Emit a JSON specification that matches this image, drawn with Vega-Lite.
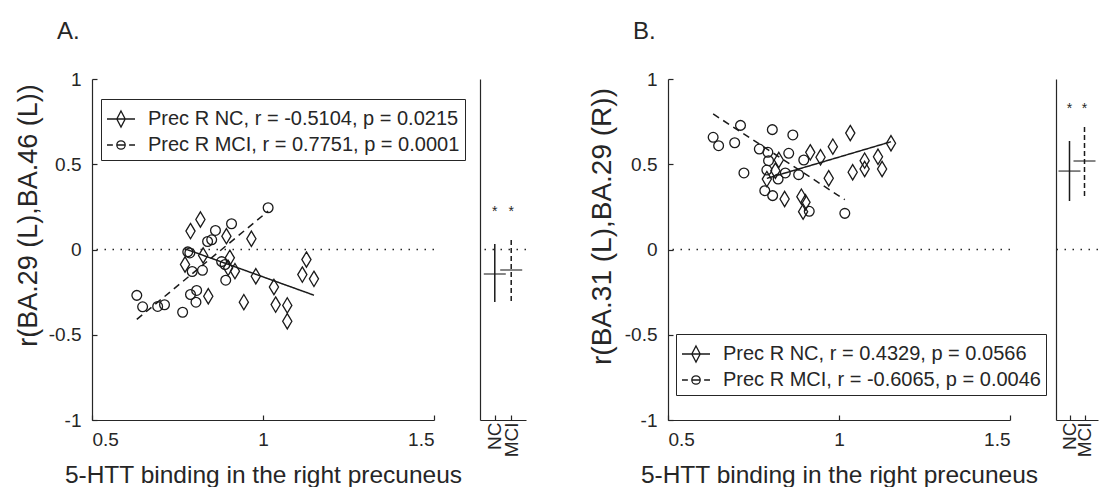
{
  "$schema": "https://vega.github.io/schema/vega-lite/v6.json",
  "background": "white",
  "padding": {"left": 14, "top": 20, "right": 0, "bottom": 0},
  "bounds": "flush",
  "spacing": 46,
  "resolve": {"scale": {"shape": "independent", "strokeDash": "independent"}, "legend": {"shape": "independent", "strokeDash": "independent"}},
  "config": {
    "view": {"stroke": null},
    "font": "Liberation Sans",
    "axis": {
      "grid": false,
      "domainColor": "#262626",
      "tickColor": "#262626",
      "labelColor": "#262626",
      "titleColor": "#262626",
      "domainWidth": 1.2,
      "tickWidth": 1.2,
      "tickSize": -5,
      "labelFont": "Liberation Sans",
      "titleFont": "Liberation Sans",
      "labelFontSize": 19,
      "titleFontSize": 24.5,
      "titleFontWeight": "normal"
    },
    "title": {"font": "Liberation Sans", "fontSize": 24, "fontWeight": "normal", "color": "#262626", "anchor": "start", "frame": "group"}
  },
  "datasets": {
    "ptsA": [
      {"group": "MCI", "x": 0.631, "y": -0.269},
      {"group": "MCI", "x": 0.648, "y": -0.336},
      {"group": "MCI", "x": 0.692, "y": -0.334},
      {"group": "MCI", "x": 0.712, "y": -0.324},
      {"group": "MCI", "x": 0.765, "y": -0.368},
      {"group": "MCI", "x": 0.780, "y": -0.014},
      {"group": "MCI", "x": 0.786, "y": -0.020},
      {"group": "MCI", "x": 0.793, "y": -0.129},
      {"group": "MCI", "x": 0.823, "y": -0.122},
      {"group": "MCI", "x": 0.788, "y": -0.264},
      {"group": "MCI", "x": 0.806, "y": -0.240},
      {"group": "MCI", "x": 0.804, "y": -0.309},
      {"group": "MCI", "x": 0.838, "y": 0.047},
      {"group": "MCI", "x": 0.850, "y": 0.057},
      {"group": "MCI", "x": 0.861, "y": 0.112},
      {"group": "MCI", "x": 0.908, "y": 0.151},
      {"group": "MCI", "x": 0.879, "y": -0.071},
      {"group": "MCI", "x": 0.889, "y": -0.088},
      {"group": "MCI", "x": 0.891, "y": -0.180},
      {"group": "MCI", "x": 1.015, "y": 0.245},
      {"group": "NC", "x": 0.788, "y": 0.108},
      {"group": "NC", "x": 0.817, "y": 0.176},
      {"group": "NC", "x": 0.772, "y": -0.088},
      {"group": "NC", "x": 0.825, "y": -0.035},
      {"group": "NC", "x": 0.840, "y": -0.274},
      {"group": "NC", "x": 0.893, "y": 0.078},
      {"group": "NC", "x": 0.903, "y": -0.049},
      {"group": "NC", "x": 0.898, "y": -0.108},
      {"group": "NC", "x": 0.918, "y": -0.127},
      {"group": "NC", "x": 0.966, "y": 0.063},
      {"group": "NC", "x": 0.979, "y": -0.157},
      {"group": "NC", "x": 0.944, "y": -0.309},
      {"group": "NC", "x": 1.032, "y": -0.220},
      {"group": "NC", "x": 1.037, "y": -0.323},
      {"group": "NC", "x": 1.071, "y": -0.328},
      {"group": "NC", "x": 1.071, "y": -0.421},
      {"group": "NC", "x": 1.115, "y": -0.147},
      {"group": "NC", "x": 1.127, "y": -0.059},
      {"group": "NC", "x": 1.149, "y": -0.172}
    ],
    "lineA": [
      {"group": "NC", "x": 0.772, "y": 0.004},
      {"group": "NC", "x": 1.149, "y": -0.268},
      {"group": "MCI", "x": 0.631, "y": -0.41},
      {"group": "MCI", "x": 1.015, "y": 0.225}
    ],
    "legA": [
      {"label": "Prec R NC, r = -0.5104, p = 0.0215"},
      {"label": "Prec R MCI, r = 0.7751, p = 0.0001"}
    ],
    "sideA": [
      {"group": "NC", "mean": -0.144, "lo": -0.308, "hi": 0.032, "star": 0.243},
      {"group": "MCI", "mean": -0.12, "lo": -0.302, "hi": 0.073, "star": 0.243}
    ],
    "ptsB": [
      {"group": "MCI", "x": 0.632, "y": 0.658},
      {"group": "MCI", "x": 0.648, "y": 0.609},
      {"group": "MCI", "x": 0.695, "y": 0.626},
      {"group": "MCI", "x": 0.712, "y": 0.728},
      {"group": "MCI", "x": 0.722, "y": 0.449},
      {"group": "MCI", "x": 0.805, "y": 0.703},
      {"group": "MCI", "x": 0.767, "y": 0.589},
      {"group": "MCI", "x": 0.792, "y": 0.570},
      {"group": "MCI", "x": 0.794, "y": 0.521},
      {"group": "MCI", "x": 0.789, "y": 0.466},
      {"group": "MCI", "x": 0.783, "y": 0.345},
      {"group": "MCI", "x": 0.806, "y": 0.316},
      {"group": "MCI", "x": 0.822, "y": 0.413},
      {"group": "MCI", "x": 0.843, "y": 0.449},
      {"group": "MCI", "x": 0.853, "y": 0.564},
      {"group": "MCI", "x": 0.865, "y": 0.672},
      {"group": "MCI", "x": 0.882, "y": 0.439},
      {"group": "MCI", "x": 0.897, "y": 0.525},
      {"group": "MCI", "x": 0.913, "y": 0.224},
      {"group": "MCI", "x": 1.017, "y": 0.212},
      {"group": "NC", "x": 0.789, "y": 0.413},
      {"group": "NC", "x": 0.824, "y": 0.525},
      {"group": "NC", "x": 0.814, "y": 0.462},
      {"group": "NC", "x": 0.841, "y": 0.296},
      {"group": "NC", "x": 0.890, "y": 0.310},
      {"group": "NC", "x": 0.902, "y": 0.277},
      {"group": "NC", "x": 0.895, "y": 0.222},
      {"group": "NC", "x": 0.916, "y": 0.570},
      {"group": "NC", "x": 0.946, "y": 0.541},
      {"group": "NC", "x": 0.982, "y": 0.603},
      {"group": "NC", "x": 1.033, "y": 0.683},
      {"group": "NC", "x": 0.970, "y": 0.418},
      {"group": "NC", "x": 1.040, "y": 0.453},
      {"group": "NC", "x": 1.075, "y": 0.521},
      {"group": "NC", "x": 1.075, "y": 0.472},
      {"group": "NC", "x": 1.114, "y": 0.544},
      {"group": "NC", "x": 1.126, "y": 0.472},
      {"group": "NC", "x": 1.152, "y": 0.623}
    ],
    "lineB": [
      {"group": "NC", "x": 0.789, "y": 0.417},
      {"group": "NC", "x": 1.152, "y": 0.632},
      {"group": "MCI", "x": 0.632, "y": 0.795},
      {"group": "MCI", "x": 1.017, "y": 0.292}
    ],
    "legB": [
      {"label": "Prec R NC, r = 0.4329, p = 0.0566"},
      {"label": "Prec R MCI, r = -0.6065, p = 0.0046"}
    ],
    "sideB": [
      {"group": "NC", "mean": 0.46, "lo": 0.284, "hi": 0.636, "star": 0.847},
      {"group": "MCI", "mean": 0.519, "lo": 0.314, "hi": 0.718, "star": 0.847}
    ]
  },
  "hconcat": [
    {
      "width": 342,
      "height": 341,
      "title": {"text": "A.", "dx": -35, "offset": 26},
      "layer": [
        {
          "data": {"name": "ptsA"},
          "transform": [{"filter": "datum.group === 'NC'"}],
          "mark": {"type": "point", "shape": "M0,-1L0.6,0L0,1L-0.6,0Z", "size": 234, "filled": false, "stroke": "#1a1a1a", "strokeWidth": 1.3, "opacity": 1},
          "encoding": {
            "x": {"field": "x", "type": "quantitative", "scale": {"domain": [0.5, 1.5], "nice": false, "zero": false},
              "axis": {"values": [0.5, 1, 1.5], "format": "~g", "title": "5-HTT binding in the right precuneus", "labelPadding": 15, "titlePadding": 14}},
            "y": {"field": "y", "type": "quantitative", "scale": {"domain": [-1, 1], "nice": false, "zero": false},
              "axis": {"values": [-1, -0.5, 0, 0.5, 1], "format": "~g", "labelExpr": "replace(datum.label, '\u2212', '-')", "title": "r(BA.29 (L),BA.46 (L))", "labelPadding": 16, "titlePadding": 6, "titleFontSize": 27, "titleY": 136}}
          }
        },
        {
          "data": {"values": [{}]},
          "mark": {"type": "rule", "strokeDash": [1.5, 6.5], "strokeWidth": 1.4, "color": "#262626"},
          "encoding": {"y": {"datum": 0, "type": "quantitative"}}
        },
        {
          "data": {"name": "lineA"},
          "mark": {"type": "line", "strokeWidth": 1.5, "color": "#1a1a1a"},
          "encoding": {
            "x": {"field": "x", "type": "quantitative"},
            "y": {"field": "y", "type": "quantitative"},
            "detail": {"field": "group"},
            "strokeDash": {"field": "group", "type": "nominal", "scale": {"domain": ["NC", "MCI"], "range": [[1, 0], [7, 5]]}, "legend": null}
          }
        },
        {
          "data": {"name": "ptsA"},
          "transform": [{"filter": "datum.group === 'MCI'"}],
          "mark": {"type": "point", "shape": "circle", "size": 95, "filled": false, "stroke": "#1a1a1a", "strokeWidth": 1.3, "opacity": 1},
          "encoding": {
            "x": {"field": "x", "type": "quantitative"},
            "y": {"field": "y", "type": "quantitative"}
          }
        },
        {
          "data": {"name": "legA"},
          "mark": {"type": "point", "opacity": 0, "filled": false, "stroke": "#1a1a1a"},
          "encoding": {
            "shape": {
              "field": "label", "type": "nominal",
              "scale": {"domain": ["Prec R NC, r = -0.5104, p = 0.0215", "Prec R MCI, r = 0.7751, p = 0.0001"],
                "range": ["M-1,0H1M0,-0.57L0.3,0L0,0.57L-0.3,0Z", "M-1,0H-0.58M-0.3,0H0.3M0.58,0H1M0.3,0A0.3,0.3 0 1 1 -0.3,0A0.3,0.3 0 1 1 0.3,0"]},
              "legend": {"orient": "none", "legendX": 9, "legendY": 20, "title": null, "symbolSize": 784, "symbolStrokeWidth": 1.3, "symbolOpacity": 1, "symbolStrokeColor": "#1a1a1a", "symbolFillColor": "transparent", "labelFont": "Liberation Sans", "labelFontSize": 20, "labelLimit": 600, "labelOffset": 12, "labelColor": "#262626", "strokeColor": "#262626", "fillColor": "white", "padding": 5, "rowPadding": -3}
            }
          }
        }
      ]
    },
    {
      "width": 46,
      "height": 341,
      "layer": [
        {
          "data": {"name": "sideA"},
          "mark": {"type": "rule", "strokeWidth": 1.5, "color": "#1a1a1a"},
          "encoding": {
            "x": {"field": "group", "type": "nominal", "scale": {"type": "point", "domain": ["NC", "MCI"], "padding": 0.9, "align": 0.5},
              "axis": {"title": null, "labelAngle": -90, "labelFontSize": 19, "labelPadding": 7}},
            "y": {"field": "lo", "type": "quantitative", "scale": {"domain": [-1, 1], "nice": false, "zero": false}, "axis": {"domain": true, "ticks": false, "labels": false, "title": null}},
            "y2": {"field": "hi"},
            "strokeDash": {"field": "group", "type": "nominal", "scale": {"domain": ["NC", "MCI"], "range": [[1, 0], [5, 3]]}, "legend": null}
          }
        },
        {
          "data": {"values": [{}]},
          "mark": {"type": "rule", "strokeDash": [1.5, 6.5], "strokeWidth": 1.4, "color": "#262626"},
          "encoding": {"y": {"datum": 0, "type": "quantitative"}}
        },
        {
          "data": {"name": "sideA"},
          "mark": {"type": "tick", "orient": "horizontal", "size": 22, "thickness": 1.5, "color": "#1a1a1a"},
          "encoding": {
            "x": {"field": "group", "type": "nominal"},
            "y": {"field": "mean", "type": "quantitative"}
          }
        },
        {
          "data": {"name": "sideA"},
          "mark": {"type": "text", "text": "*", "fontSize": 14, "baseline": "middle", "dy": 4, "color": "#262626"},
          "encoding": {
            "x": {"field": "group", "type": "nominal"},
            "y": {"field": "star", "type": "quantitative"}
          }
        }
      ]
    },
    {
      "width": 50,
      "height": 341,
      "data": {"values": []},
      "mark": "point"
    },
    {
      "width": 342,
      "height": 341,
      "title": {"text": "B.", "dx": -35, "offset": 26},
      "layer": [
        {
          "data": {"name": "ptsB"},
          "transform": [{"filter": "datum.group === 'NC'"}],
          "mark": {"type": "point", "shape": "M0,-1L0.6,0L0,1L-0.6,0Z", "size": 234, "filled": false, "stroke": "#1a1a1a", "strokeWidth": 1.3, "opacity": 1},
          "encoding": {
            "x": {"field": "x", "type": "quantitative", "scale": {"domain": [0.5, 1.5], "nice": false, "zero": false},
              "axis": {"values": [0.5, 1, 1.5], "format": "~g", "title": "5-HTT binding in the right precuneus", "labelPadding": 15, "titlePadding": 14}},
            "y": {"field": "y", "type": "quantitative", "scale": {"domain": [-1, 1], "nice": false, "zero": false},
              "axis": {"values": [-1, -0.5, 0, 0.5, 1], "format": "~g", "labelExpr": "replace(datum.label, '\u2212', '-')", "title": "r(BA.31 (L),BA.29 (R))", "labelPadding": 16, "titlePadding": 8, "titleFontSize": 28, "titleY": 147}}
          }
        },
        {
          "data": {"values": [{}]},
          "mark": {"type": "rule", "strokeDash": [1.5, 6.5], "strokeWidth": 1.4, "color": "#262626"},
          "encoding": {"y": {"datum": 0, "type": "quantitative"}}
        },
        {
          "data": {"name": "lineB"},
          "mark": {"type": "line", "strokeWidth": 1.5, "color": "#1a1a1a"},
          "encoding": {
            "x": {"field": "x", "type": "quantitative"},
            "y": {"field": "y", "type": "quantitative"},
            "detail": {"field": "group"},
            "strokeDash": {"field": "group", "type": "nominal", "scale": {"domain": ["NC", "MCI"], "range": [[1, 0], [7, 5]]}, "legend": null}
          }
        },
        {
          "data": {"name": "ptsB"},
          "transform": [{"filter": "datum.group === 'MCI'"}],
          "mark": {"type": "point", "shape": "circle", "size": 95, "filled": false, "stroke": "#1a1a1a", "strokeWidth": 1.3, "opacity": 1},
          "encoding": {
            "x": {"field": "x", "type": "quantitative"},
            "y": {"field": "y", "type": "quantitative"}
          }
        },
        {
          "data": {"name": "legB"},
          "mark": {"type": "point", "opacity": 0, "filled": false, "stroke": "#1a1a1a"},
          "encoding": {
            "shape": {
              "field": "label", "type": "nominal",
              "scale": {"domain": ["Prec R NC, r = 0.4329, p = 0.0566", "Prec R MCI, r = -0.6065, p = 0.0046"],
                "range": ["M-1,0H1M0,-0.57L0.3,0L0,0.57L-0.3,0Z", "M-1,0H-0.58M-0.3,0H0.3M0.58,0H1M0.3,0A0.3,0.3 0 1 1 -0.3,0A0.3,0.3 0 1 1 0.3,0"]},
              "legend": {"orient": "none", "legendX": 8, "legendY": 255, "title": null, "symbolSize": 784, "symbolStrokeWidth": 1.3, "symbolOpacity": 1, "symbolStrokeColor": "#1a1a1a", "symbolFillColor": "transparent", "labelFont": "Liberation Sans", "labelFontSize": 20, "labelLimit": 600, "labelOffset": 12, "labelColor": "#262626", "strokeColor": "#262626", "fillColor": "white", "padding": 5, "rowPadding": -3}
            }
          }
        }
      ]
    },
    {
      "width": 42,
      "height": 341,
      "layer": [
        {
          "data": {"name": "sideB"},
          "mark": {"type": "rule", "strokeWidth": 1.5, "color": "#1a1a1a"},
          "encoding": {
            "x": {"field": "group", "type": "nominal", "scale": {"type": "point", "domain": ["NC", "MCI"], "padding": 0.9, "align": 0.5},
              "axis": {"title": null, "labelAngle": -90, "labelFontSize": 19, "labelPadding": 7}},
            "y": {"field": "lo", "type": "quantitative", "scale": {"domain": [-1, 1], "nice": false, "zero": false}, "axis": {"domain": true, "ticks": false, "labels": false, "title": null}},
            "y2": {"field": "hi"},
            "strokeDash": {"field": "group", "type": "nominal", "scale": {"domain": ["NC", "MCI"], "range": [[1, 0], [5, 3]]}, "legend": null}
          }
        },
        {
          "data": {"values": [{}]},
          "mark": {"type": "rule", "strokeDash": [1.5, 6.5], "strokeWidth": 1.4, "color": "#262626"},
          "encoding": {"y": {"datum": 0, "type": "quantitative"}}
        },
        {
          "data": {"name": "sideB"},
          "mark": {"type": "tick", "orient": "horizontal", "size": 22, "thickness": 1.5, "color": "#1a1a1a"},
          "encoding": {
            "x": {"field": "group", "type": "nominal"},
            "y": {"field": "mean", "type": "quantitative"}
          }
        },
        {
          "data": {"name": "sideB"},
          "mark": {"type": "text", "text": "*", "fontSize": 14, "baseline": "middle", "dy": 4, "color": "#262626"},
          "encoding": {
            "x": {"field": "group", "type": "nominal"},
            "y": {"field": "star", "type": "quantitative"}
          }
        }
      ]
    }
  ]
}
